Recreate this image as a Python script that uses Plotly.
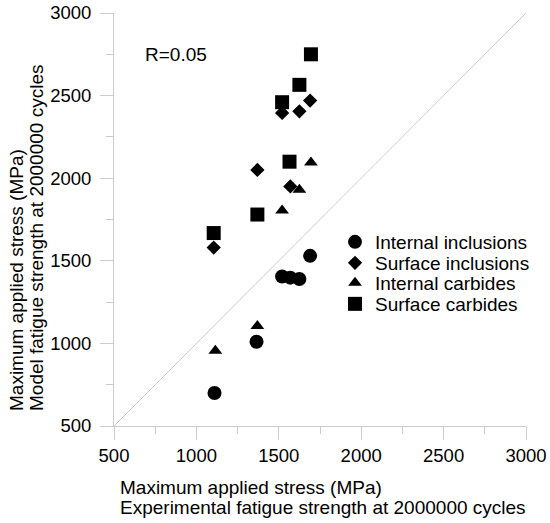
import plotly.graph_objects as go

# experimental vs model fatigue strength (MPa)
int_incl_x = [1110, 1365, 1520, 1570, 1625, 1690]
int_incl_y = [700, 1010, 1405, 1398, 1390, 1530]

surf_incl_x = [1105, 1370, 1520, 1570, 1625, 1690]
surf_incl_y = [1580, 2050, 2395, 1950, 2405, 2470]

int_carb_x = [1115, 1370, 1520, 1625, 1695]
int_carb_y = [955, 1105, 1805, 1930, 2095]

surf_carb_x = [1105, 1370, 1565, 1520, 1625, 1695]
surf_carb_y = [1668, 1780, 2100, 2460, 2565, 2750]

ref_line = [500, 3000]
ticks = [500, 1000, 1500, 2000, 2500, 3000]

W, H = 550, 523
L, R, T, B = 114, 24, 13, 97
FONT = "Liberation Sans, Arial, sans-serif"
AXC = "#cccccc"


# page pixel -> paper coordinate
def px_x(p):
    return (p - L) / (W - L - R)


def px_y(p):
    return (H - B - p) / (H - T - B)


fig = go.Figure()

fig.add_trace(go.Scatter(x=ref_line, y=ref_line, mode="lines",
                         line=dict(color=AXC, width=1), showlegend=False,
                         hoverinfo="skip"))

series = [
    ("Internal inclusions", int_incl_x, int_incl_y, "circle", 14, "legend"),
    ("Surface inclusions", surf_incl_x, surf_incl_y, "diamond", 11, "legend2"),
    ("Internal carbides", int_carb_x, int_carb_y, "triangle-up", 12, "legend3"),
    ("Surface carbides", surf_carb_x, surf_carb_y, "square", 14, "legend4"),
]
for name, xs, ys, sym, sz, lg in series:
    fig.add_trace(go.Scatter(x=xs, y=ys, mode="markers", name=name,
                             marker=dict(symbol=sym, size=sz, color="black"),
                             legend=lg))

rows = [242, 263, 283, 304]
legends = {}
for i, ry in enumerate(rows):
    key = "legend" if i == 0 else "legend%d" % (i + 1)
    legends[key] = dict(x=px_x(335), y=px_y(ry), xanchor="left", yanchor="middle",
                        bgcolor="rgba(0,0,0,0)", font=dict(size=19, color="black"))

axis = dict(range=[500, 3000], tickvals=ticks, showgrid=False, zeroline=False,
            showline=True, linecolor=AXC, linewidth=1, automargin=False,
            ticks="outside", ticklen=13, tickcolor=AXC, tickwidth=1,
            ticklabeloverflow="allow",
            minor=dict(ticks="outside", ticklen=7, dtick=250, tickcolor=AXC, tickwidth=1),
            tickfont=dict(size=18.5, color="black"))

fig.update_layout(
    width=W, height=H,
    margin=dict(l=L, r=R, t=T, b=B, autoexpand=False),
    plot_bgcolor="white", paper_bgcolor="white",
    font=dict(family=FONT, color="black"),
    xaxis=axis, yaxis=dict(axis, ticklabelstandoff=5),
    **legends,
)

anno = dict(showarrow=False, font=dict(size=19, color="black"))
fig.add_annotation(x=678, y=2750, xref="x", yref="y", text="R=0.05",
                   xanchor="left", yanchor="middle", **anno)
fig.add_annotation(x=px_x(118), y=px_y(487), xref="paper", yref="paper",
                   text="Maximum applied stress (MPa)", xanchor="left", yanchor="middle", **anno)
fig.add_annotation(x=px_x(118), y=px_y(507), xref="paper", yref="paper",
                   text="Experimental fatigue strength at 2000000 cycles",
                   xanchor="left", yanchor="middle", **anno)
fig.add_annotation(x=px_x(16), y=px_y(413), xref="paper", yref="paper", textangle=-90,
                   text="Maximum applied stress (MPa)", xanchor="center", yanchor="bottom", **anno)
fig.add_annotation(x=px_x(36), y=px_y(413), xref="paper", yref="paper", textangle=-90,
                   text="Model fatigue strength at 2000000 cycles",
                   xanchor="center", yanchor="bottom", **anno)

# drop the default 8px page margin so the figure sits at the window corner
fig.write_html("out.html", config={"displayModeBar": False},
               post_script="document.body.style.margin = '0px';")
